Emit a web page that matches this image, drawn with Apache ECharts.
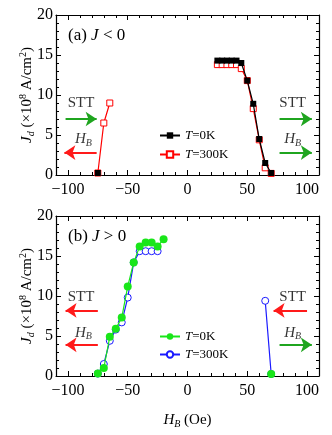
<!DOCTYPE html>
<html>
<head>
<meta charset="utf-8">
<script src="https://cdn.jsdelivr.net/npm/echarts@6/dist/echarts.min.js"></script>
<style>
    html, body { margin: 0; padding: 0; background: #fff; }
    #chart { width: 332px; height: 435px; }
</style>
</head>
<body>
<div id="chart"></div>
<script>
(function () {

    'use strict';

    // 刻度
    var xTicks = [-100, -50, 0, 50, 100];
    var yTicks = [0, 5, 10, 15, 20];

    // (a) J < 0 ，null 处断线
    var aHb0 = [-75, null, 25, 29, 33, 37, 41, 45, 50, 55, 60, 65, 70];
    var aJd0 = [0.25, null, 14.3, 14.3, 14.3, 14.3, 14.3, 14.0, 11.8, 8.9, 4.5, 1.5, 0.25];
    var aHb300 = [-75, -70, -65, null, 25, 29, 33, 37, 41, 45, 50, 55, 60, 65, 70];
    var aJd300 = [0.25, 6.5, 9.0, null, 13.8, 13.8, 13.8, 13.8, 13.8, 13.3, 11.8, 8.3, 4.4, 0.9, 0.2];

    // (b) J > 0
    var bHb0 = [-75, -70, -65, -60, -55, -50, -45, -40, -35, -30, -25, -20, null, 70];
    var bJd0 = [0.3, 1.0, 4.9, 5.9, 7.3, 11.2, 14.2, 16.2, 16.7, 16.7, 16.2, 17.1, null, 0.25];
    var bHb300 = [-75, -70, -65, -60, -55, -50, -45, -40, -35, -30, -25, null, 65, 70];
    var bJd300 = [0.3, 1.5, 4.4, 5.8, 6.7, 9.8, 14.2, 15.6, 15.6, 15.6, 15.6, null, 9.4, 0.25];

    // 注释文字 [文字, H_B, J_d]
    var notesA = [['STT', -89, 9.0], ['STT', 88, 9.0], ['HB', -87, 4.5], ['HB', 88, 4.5]];
    var notesB = [['STT', -89, 9.9], ['STT', 88, 9.9], ['HB', -87, 5.4], ['HB', 88, 5.4]];
    // 箭头 [起点, 终点, J_d, 颜色]
    var arrowsA = [[-102, -76, 7.0, 'g'], [-76, -103, 2.8, 'r'], [77, 104, 7.0, 'g'], [77, 104, 2.8, 'g']];
    var arrowsB = [[-75, -102, 8.2, 'r'], [-75, -102, 3.9, 'r'], [100, 72, 8.2, 'r'], [77, 104, 3.9, 'g']];

    var F = 'Liberation Serif';
    var arrowColor = { g: '#1fa51f', r: '#ff1a1a' };

    var rich = {
        n: { fontFamily: F, fontSize: 15, fontWeight: 'normal', color: '#000' },
        i: { fontFamily: F, fontSize: 15, fontWeight: 'normal', fontStyle: 'italic', color: '#000' },
        s: { fontFamily: F, fontSize: 10, fontWeight: 'normal', fontStyle: 'italic', color: '#000', padding: [8, 0, 0, 0] },
        p: { fontFamily: F, fontSize: 10, fontWeight: 'normal', color: '#000', padding: [0, 0, 8, 0] }
    };

    function pairs(xs, ys) {
        return xs.map(function (x, i) {
            return ys[i] === null ? '-' : [x, ys[i]];
        });
    }

    function fmtX(v) {
        if (xTicks.indexOf(v) < 0) return '';
        return v < 0 ? '\u2212' + (-v) : String(v);
    }

    function fmtY(v) {
        return yTicks.indexOf(v) < 0 ? '' : String(v);
    }

    var line = { color: '#000', width: 1.2 };
    var tick = { color: '#000', width: 1 };

    // 每个面板四周都有朝内的刻度
    function makeAxes(g, xName) {
        var xs = [], ys = [];
        ['bottom', 'top'].forEach(function (pos) {
            xs.push({
                type: 'value', gridIndex: g, position: pos, min: -110, max: 110, interval: 10,
                name: pos === 'bottom' ? xName : '', nameLocation: 'middle', nameGap: 35,
                nameMoveOverlap: false,
                nameTextStyle: { rich: rich },
                axisLine: { show: true, onZero: false, lineStyle: line },
                axisTick: { show: true, inside: true, length: 3, lineStyle: tick },
                axisLabel: { show: pos === 'bottom', margin: 7, fontFamily: F, fontSize: 16, color: '#000', formatter: fmtX },
                splitLine: { show: false }
            });
            xs.push({
                type: 'value', gridIndex: g, position: pos, min: -110, max: 110,
                axisLine: { show: false, onZero: false },
                axisTick: { show: true, inside: true, length: 5, customValues: xTicks, lineStyle: tick },
                axisLabel: { show: false },
                splitLine: { show: false }
            });
        });
        ['left', 'right'].forEach(function (pos) {
            ys.push({
                type: 'value', gridIndex: g, position: pos, min: 0, max: 20, interval: 1,
                name: pos === 'left' ? '{i|J}{s|d}{n| (\u00d710}{p|8}{n| A/cm}{p|2}{n|)}' : '',
                nameLocation: 'middle', nameRotate: 90, nameGap: 20,
                nameMoveOverlap: false,
                nameTextStyle: { rich: rich },
                axisLine: { show: true, onZero: false, lineStyle: line },
                axisTick: { show: true, inside: true, length: 3, lineStyle: tick },
                axisLabel: { show: pos === 'left', margin: 3, fontFamily: F, fontSize: 16, color: '#000', formatter: fmtY },
                splitLine: { show: false }
            });
            ys.push({
                type: 'value', gridIndex: g, position: pos, min: 0, max: 20, interval: 5,
                axisLine: { show: false, onZero: false },
                axisTick: { show: true, inside: true, length: 5, lineStyle: tick },
                axisLabel: { show: false },
                splitLine: { show: false }
            });
        });
        return { x: xs, y: ys };
    }

    // fill 为 null 时画成白底空心符号
    function dataSeries(name, g, xs, ys, color, symbol, size, hollow, z) {
        return {
            name: name, type: 'line', xAxisIndex: g * 4, yAxisIndex: g * 4, z: z,
            data: pairs(xs, ys), connectNulls: false,
            symbol: symbol, symbolSize: size, showSymbol: true,
            lineStyle: { color: color, width: 1.2 },
            itemStyle: hollow ? { color: '#fff', borderColor: color, borderWidth: 1 } : { color: color },
            emphasis: { disabled: true }
        };
    }

    function noteSeries(g, notes, arrows) {
        return {
            type: 'scatter', xAxisIndex: g * 4, yAxisIndex: g * 4,
            symbolSize: 1, silent: true,
            itemStyle: { color: 'rgba(0,0,0,0)' },
            data: notes.map(function (n) { return { name: n[0], value: [n[1], n[2]] }; }),
            label: {
                show: true, position: 'inside', rich: rich,
                formatter: function (p) {
                    return p.name === 'HB' ? '{i|H}{s|B}' : '{n|' + p.name + '}';
                }
            },
            markLine: {
                silent: true, symbol: ['none', 'arrow'], symbolSize: 11,
                label: { show: false },
                data: arrows.map(function (a) {
                    var c = arrowColor[a[3]];
                    return [
                        { coord: [a[0], a[2]], lineStyle: { color: c, width: 2, type: 'solid' }, itemStyle: { color: c } },
                        { coord: [a[1], a[2]], lineStyle: { color: c, width: 2, type: 'solid' }, itemStyle: { color: c } }
                    ];
                })
            }
        };
    }

    var axA = makeAxes(0, ''),
        axB = makeAxes(1, '{i|H}{s|B}{n| (Oe)}');

    function legendFmt(name) {
        var t = name.split(':')[1];
        return '{i|T}{n|' + t.slice(1) + '}';
    }

    var legendRich = {
        n: { fontFamily: F, fontSize: 13, color: '#000' },
        i: { fontFamily: F, fontSize: 13, fontStyle: 'italic', color: '#000' }
    };

    var titleRich = {
        n: { fontFamily: F, fontSize: 17, fontWeight: 'normal', color: '#000' },
        i: { fontFamily: F, fontSize: 17, fontWeight: 'normal', fontStyle: 'italic', color: '#000' }
    };

    var option = {
        animation: false,
        title: [
            { text: '{n|(a) }{i|J}{n| < 0}', left: 63, top: 22, textStyle: { fontWeight: 'normal', rich: titleRich } },
            { text: '{n|(b) }{i|J}{n| > 0}', left: 63, top: 223, textStyle: { fontWeight: 'normal', rich: titleRich } }
        ],
        legend: [
            { data: ['a:T=0K', 'a:T=300K'], orient: 'vertical', left: 154, top: 124, itemWidth: 20, itemHeight: 8, itemGap: 6,
              formatter: legendFmt, textStyle: { rich: legendRich }, selectedMode: false },
            { data: ['b:T=0K', 'b:T=300K'], orient: 'vertical', left: 154, top: 325, itemWidth: 20, itemHeight: 8, itemGap: 5,
              formatter: legendFmt, textStyle: { rich: legendRich }, selectedMode: false }
        ],
        grid: [
            { left: 56, right: 13, top: 15, height: 160, outerBoundsMode: 'none' },
            { left: 56, right: 13, top: 216, height: 160, outerBoundsMode: 'none' }
        ],
        xAxis: axA.x.concat(axB.x),
        yAxis: axA.y.concat(axB.y),
        series: [
            dataSeries('a:T=300K', 0, aHb300, aJd300, '#ff0000', 'rect', 6, true, 2),
            dataSeries('a:T=0K', 0, aHb0, aJd0, '#000', 'rect', 6, false, 3),
            dataSeries('b:T=300K', 1, bHb300, bJd300, '#1a1aff', 'circle', 7, true, 2),
            dataSeries('b:T=0K', 1, bHb0, bJd0, '#19e619', 'circle', 8, false, 3),
            noteSeries(0, notesA, arrowsA),
            noteSeries(1, notesB, arrowsB)
        ]
    };

    var myChart = echarts.init(document.getElementById('chart'));
    myChart.setOption(option);
})();
</script>
</body>
</html>
